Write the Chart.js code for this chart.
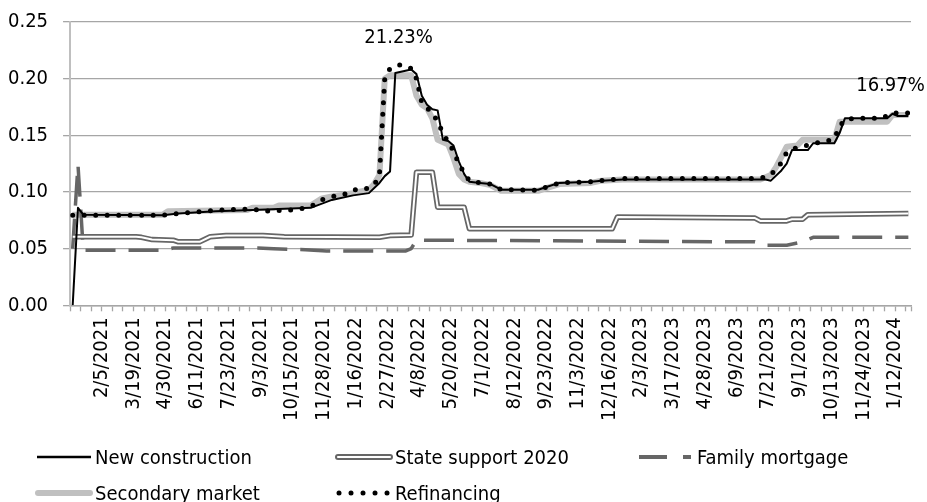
<!DOCTYPE html>
<html>
<head>
<meta charset="utf-8">
<script src="https://cdn.jsdelivr.net/npm/chart.js@4.4.0/dist/chart.umd.min.js"></script>
<style>
  html, body { margin: 0; padding: 0; background: #fff; overflow: hidden; }
  #wrap { position: relative; width: 927px; height: 502px; }
  #legend {
    position: absolute; left: 35px; top: 439px;
    display: grid; grid-template-columns: 300px 302px auto; grid-auto-rows: 36px;
    font: 20px "DejaVu Sans Condensed", "DejaVu Sans", sans-serif; color: #000;
  }
  #legend .item { display: flex; align-items: center; white-space: nowrap; }
  #legend svg { width: 58px; height: 14px; margin-right: 2px; }
</style>
</head>
<body>
<div id="wrap">
  <canvas id="chart" width="927" height="502"></canvas>
  <div id="legend"></div>
</div>
<script>
// weekly categories, 159 of them; tick labels every 6th week
const weekCount = 159;
const tickLabels = [
  '2/5/2021', '3/19/2021', '4/30/2021', '6/11/2021', '7/23/2021', '9/3/2021',
  '10/15/2021', '11/28/2021', '1/16/2022', '2/27/2022', '4/8/2022', '5/20/2022',
  '7/1/2022', '8/12/2022', '9/23/2022', '11/3/2022', '12/16/2022', '2/3/2023',
  '3/17/2023', '4/28/2023', '6/9/2023', '7/21/2023', '9/1/2023', '10/13/2023',
  '11/24/2023', '1/12/2024'
];
const yTicks = [0, 0.05, 0.10, 0.15, 0.20, 0.25];

// [week index, rate]
const newConstruction = [
  [0, 0.000], [1, 0.086], [2, 0.080], [17, 0.0795], [20, 0.081], [27, 0.083], [34, 0.084],
  [45, 0.086], [49, 0.093], [53, 0.097], [56, 0.099], [58, 0.108], [59, 0.114], [60, 0.118],
  [61, 0.205], [64, 0.208], [65, 0.204], [66, 0.185], [67, 0.177], [68, 0.173], [69, 0.172],
  [70, 0.146], [71, 0.145], [72, 0.141], [73, 0.127], [74, 0.116], [75, 0.109], [77, 0.108],
  [79, 0.107], [81, 0.102], [88, 0.102], [90, 0.105], [92, 0.108], [98, 0.109], [100, 0.110],
  [104, 0.111], [131, 0.111], [132, 0.110], [134, 0.119], [135, 0.125], [136, 0.137],
  [139, 0.137], [140, 0.143], [144, 0.143], [145, 0.152], [146, 0.165], [154, 0.165],
  [155, 0.169], [156, 0.167], [158, 0.167]
];
const stateSupport = [
  [0, 0.0605], [12, 0.0605], [13, 0.060], [15, 0.058], [19, 0.0575], [20, 0.056], [24, 0.056],
  [26, 0.0605], [29, 0.0615], [36, 0.0615], [40, 0.0605], [58, 0.060], [60, 0.0615],
  [64, 0.062], [65, 0.1175], [68, 0.1175], [69, 0.0866], [74, 0.0866], [75, 0.0675],
  [102, 0.0675], [103, 0.078], [129, 0.077], [130, 0.0745], [135, 0.0745], [136, 0.076],
  [138, 0.076], [139, 0.080], [158, 0.081]
];
const familyMortgage = [
  [0, 0.050], [1, 0.124], [2, 0.0485], [17, 0.0485], [19, 0.0505], [35, 0.0505], [38, 0.050],
  [44, 0.049], [48, 0.048], [63, 0.048], [64, 0.050], [65, 0.0575], [129, 0.056], [131, 0.053],
  [135, 0.053], [138, 0.056], [140, 0.060], [158, 0.060]
];
const secondaryMarket = [
  [0, 0.080], [17, 0.080], [18, 0.083], [33, 0.084], [34, 0.086], [38, 0.086], [39, 0.088],
  [45, 0.088], [47, 0.094], [49, 0.096], [53, 0.099], [56, 0.102], [57, 0.107], [58, 0.115],
  [59, 0.200], [60, 0.203], [64, 0.203], [65, 0.185], [66, 0.177], [67, 0.174], [68, 0.165],
  [69, 0.146], [71, 0.142], [72, 0.130], [73, 0.116], [74, 0.111], [75, 0.109], [77, 0.108],
  [79, 0.106], [81, 0.101], [88, 0.101], [90, 0.104], [92, 0.107], [98, 0.108], [100, 0.110],
  [104, 0.111], [130, 0.111], [132, 0.115], [133, 0.122], [135, 0.140], [137, 0.141],
  [138, 0.146], [144, 0.146], [145, 0.162], [154, 0.162], [155, 0.168], [158, 0.168]
];
const refinancing = [
  [0, 0.0795], [17, 0.0795], [20, 0.081], [25, 0.083], [27, 0.084], [34, 0.085], [36, 0.083],
  [41, 0.084], [43, 0.085], [45, 0.087], [46, 0.090], [47, 0.093], [49, 0.096], [51, 0.097],
  [53, 0.102], [55, 0.102], [57, 0.106], [58, 0.115], [59, 0.200], [60, 0.209], [61, 0.211],
  [62, 0.2123], [63, 0.211], [64, 0.209], [65, 0.200], [66, 0.179], [67, 0.174], [68, 0.170],
  [69, 0.162], [70, 0.152], [71, 0.144], [72, 0.136], [73, 0.125], [74, 0.117], [75, 0.110],
  [77, 0.108], [79, 0.107], [81, 0.102], [88, 0.1015], [90, 0.105], [92, 0.108], [98, 0.109],
  [100, 0.110], [104, 0.112], [129, 0.112], [131, 0.113], [133, 0.119], [134, 0.126],
  [135, 0.135], [136, 0.138], [138, 0.140], [140, 0.143], [142, 0.144], [144, 0.147],
  [145, 0.158], [146, 0.164], [148, 0.165], [153, 0.165], [155, 0.1697], [158, 0.1697]
];
const labeledWeeks = [62, 155];

const FONT = '"DejaVu Sans Condensed", "DejaVu Sans", sans-serif';
const FONT_SIZE = 20;
const GRID = '#a6a6a6';

const pts = arr => arr.map(([x, y]) => ({ x, y }));

// percent labels over selected refinancing points
const pointLabels = {
  id: 'pointLabels',
  afterDatasetsDraw(chart) {
    const { ctx, scales: { x, y } } = chart;
    ctx.save();
    ctx.font = FONT_SIZE + 'px ' + FONT;
    ctx.fillStyle = '#000';
    ctx.textAlign = 'center';
    ctx.textBaseline = 'middle';
    labeledWeeks.forEach(w => {
      const p = refinancing.find(d => d[0] === w);
      ctx.fillText((p[1] * 100).toFixed(2) + '%', x.getPixelForValue(p[0]) - 2, y.getPixelForValue(p[1]) - 27);
    });
    ctx.restore();
  }
};

const line = (label, data, extra) => Object.assign({
  label, data: pts(data), pointRadius: 0, tension: 0, fill: false, borderJoinStyle: 'round'
}, extra);

new Chart(document.getElementById('chart'), {
  type: 'line',
  data: {
    datasets: [
      line('Refinancing', refinancing, { borderColor: '#000', borderWidth: 5, borderDash: [0, 11.5], borderCapStyle: 'round', order: 0 }),
      line('New construction', newConstruction, { borderColor: '#000', borderWidth: 2, order: 1 }),
      line('State support 2020 inner', stateSupport, { borderColor: '#fff', borderWidth: 2, order: 2 }),
      line('State support 2020', stateSupport, { borderColor: '#666', borderWidth: 5.5, order: 3 }),
      line('Family mortgage', familyMortgage, { borderColor: '#666', borderWidth: 3.5, borderDash: [30, 13], order: 4 }),
      line('Secondary market', secondaryMarket, { borderColor: '#c0c0c0', borderWidth: 6, order: 5 })
    ]
  },
  options: {
    responsive: false,
    animation: false,
    layout: { padding: { top: 22, left: 8, right: 16, bottom: 75 } },
    plugins: { legend: { display: false }, tooltip: { enabled: false } },
    scales: {
      x: {
        type: 'linear',
        min: -0.5,
        max: weekCount - 0.5,
        afterBuildTicks: axis => {
          const t = [];
          for (let v = -0.5; v < weekCount - 0.5; v += 2) t.push({ value: v });
          t.push({ value: weekCount - 0.5 });
          axis.ticks = t;
        },
        afterFit: axis => { axis.paddingLeft = 0; axis.paddingRight = 0; },
        ticks: {
          autoSkip: false, minRotation: 90, maxRotation: 90, padding: 6, color: '#000',
          font: { family: FONT, size: FONT_SIZE },
          callback: v => {
            const k = (v + 0.5) / 6;
            return Number.isInteger(k) && k >= 1 && k <= tickLabels.length ? tickLabels[k - 1] : '';
          }
        },
        grid: { drawOnChartArea: false, tickLength: 6, tickColor: GRID, tickWidth: 1.3 },
        border: { color: GRID, width: 1.5 }
      },
      y: {
        min: 0,
        max: 0.25,
        afterBuildTicks: axis => { axis.ticks = yTicks.map(value => ({ value })); },
        afterFit: axis => {
          axis.width -= axis.options.ticks.padding;
          axis.paddingTop = 0;
          axis.paddingBottom = 0;
        },
        ticks: { padding: 15, color: '#000', font: { family: FONT, size: FONT_SIZE }, callback: v => v.toFixed(2) },
        grid: { color: GRID, lineWidth: 1.3, tickLength: 7 },
        border: { color: '#bfbfbf', width: 2 }
      }
    }
  },
  plugins: [pointLabels]
});

// legend
const samples = {
  'New construction': '<line x1="2" y1="7" x2="56" y2="7" stroke="#000" stroke-width="2.5"/>',
  'State support 2020': '<line x1="3" y1="7" x2="55" y2="7" stroke="#666" stroke-width="6" stroke-linecap="round"/><line x1="3" y1="7" x2="55" y2="7" stroke="#fff" stroke-width="2.2" stroke-linecap="round"/>',
  'Family mortgage': '<line x1="2" y1="7" x2="30" y2="7" stroke="#666" stroke-width="4"/><line x1="46" y1="7" x2="54" y2="7" stroke="#666" stroke-width="4"/>',
  'Secondary market': '<line x1="3" y1="7" x2="55" y2="7" stroke="#c0c0c0" stroke-width="6" stroke-linecap="round"/>',
  'Refinancing': [4, 16, 28, 40, 52].map(cx => `<circle cx="${cx}" cy="7" r="2.5" fill="#000"/>`).join('')
};
const legendOrder = ['New construction', 'State support 2020', 'Family mortgage', 'Secondary market', 'Refinancing'];
document.getElementById('legend').innerHTML = legendOrder.map(name =>
  `<div class="item"><svg viewBox="0 0 58 14">${samples[name]}</svg><span>${name}</span></div>`
).join('');
</script>
</body>
</html>
